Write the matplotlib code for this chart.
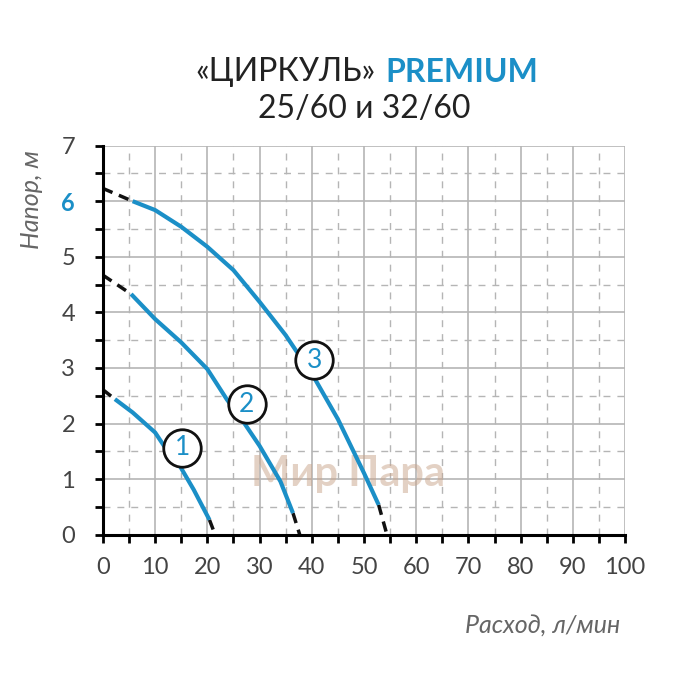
import numpy as np
import matplotlib.pyplot as plt

# curve data (flow l/min, head m)
q1 = [2.3, 5.7, 10, 11.7, 14.6, 17.4, 20.4]
h1 = [2.44, 2.2, 1.84, 1.6, 1.26, 0.81, 0.27]
q2 = [5.4, 10, 15, 20, 23.7, 25.4, 27.2, 30, 34, 36.4]
h2 = [4.33, 3.88, 3.46, 2.98, 2.44, 2.22, 1.99, 1.6, 0.96, 0.39]
q3 = [5.7, 10, 15, 20, 25, 30, 35, 37, 39, 40.8, 45, 50, 52.8]
h3 = [6.0, 5.84, 5.54, 5.18, 4.76, 4.19, 3.59, 3.31, 3.05, 2.77, 2.08, 1.11, 0.54]
# dashed extrapolated ends
start_h = [2.61, 4.67, 6.23]
end_q = [21.5, 37.7, 54.4]
# label circles
lab_q = [15.2, 27.5, 40.5]
lab_h = [1.57, 2.35, 3.14]

blue = '#1b8fc7'
gray = '#444444'
plt.rcParams['font.family'] = ['Lato', 'DejaVu Sans']

fig = plt.figure(figsize=(7, 7), dpi=100)
ax = fig.add_axes([0.147, 0.236, 0.746, 0.556])

ax.set_xlim(0, 100)
ax.set_ylim(0, 7)
ax.set_xticks(np.arange(0, 101, 10))
ax.set_xticks(np.arange(0, 101, 5), minor=True)
ax.set_yticks(np.arange(0, 8, 1))
ax.set_yticks(np.arange(0, 7.01, 0.5), minor=True)
ax.grid(which='major', color='#b5b5b5', lw=1.2)
ax.grid(which='minor', color='#b5b5b5', lw=1.0, ls=(0, (5, 5)))
for s in ['top', 'right']:
    ax.spines[s].set_visible(False)
for s in ['left', 'bottom']:
    ax.spines[s].set_linewidth(2.2)
ax.tick_params(which='both', direction='out', length=6, width=2, labelsize=17, labelcolor=gray, pad=10)
ax.tick_params(axis='y', pad=14)
ax.get_yticklabels()[6].set_color(blue)
ax.get_yticklabels()[6].set_fontweight('bold')
ax.set_axisbelow(True)

for q, h, hs, qe in zip([q1, q2, q3], [h1, h2, h3], start_h, end_q):
    ax.plot([0, q[0]], [hs, h[0]], color='#111111', lw=2.5, ls=(0, (3, 2)), clip_on=False)
    ax.plot([q[-1], qe], [h[-1], 0], color='#111111', lw=2.5, ls=(0, (3, 2)), clip_on=False)
    ax.plot(q, h, color=blue, lw=3, solid_capstyle='butt', solid_joinstyle='round')

for i, (x, y) in enumerate(zip(lab_q, lab_h)):
    ax.plot(x, y, 'o', ms=27, mfc='white', mec='#111111', mew=2, zorder=5)
    ax.text(x, y, str(i + 1), color=blue, fontsize=19, ha='center', va='center', zorder=6)

ax.text(47, 1.1, 'Мир Пара', color='#c9a48a', alpha=0.5, fontsize=30,
        fontweight='bold', ha='center', va='center', zorder=1)

fig.text(0.537, 0.897, '«ЦИРКУЛЬ»', fontsize=23, ha='right', va='center', color='#222222')
fig.text(0.55, 0.897, 'PREMIUM', fontsize=23, ha='left', va='center', color=blue, fontweight='bold')
fig.text(0.52, 0.845, '25/60 и 32/60', fontsize=23, ha='center', va='center', color='#222222')
fig.text(0.045, 0.715, 'Напор, м', fontsize=18, style='italic', color='#666666', rotation=90, ha='center', va='center')
fig.text(0.775, 0.105, 'Расход, л/мин', fontsize=18, style='italic', color='#666666', ha='center', va='center')

fig.savefig('out.png', dpi=100)
